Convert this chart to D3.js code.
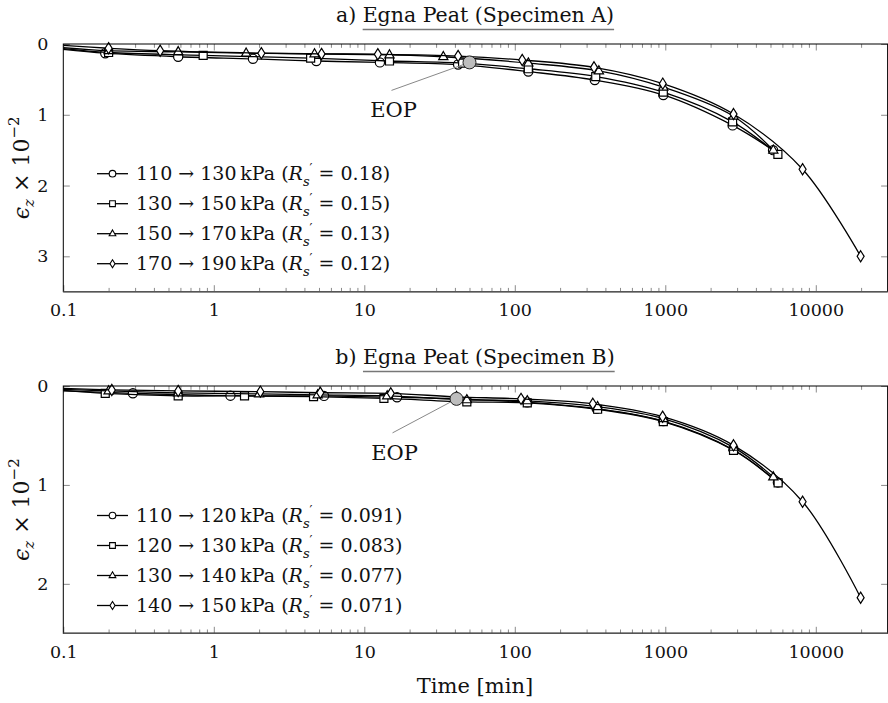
<!DOCTYPE html>
<html><head><meta charset="utf-8">
<script src="https://cdn.jsdelivr.net/npm/d3@7"></script>
<style>body{margin:0;background:#fff}text{font-family:"DejaVu Serif","Liberation Serif","Times New Roman",serif;fill:#111}</style>
</head><body><svg id="c" width="888" height="703"></svg>
<script>
// ---------- DATA ----------
const xTickValues = [0.1, 1, 10, 100, 1000, 10000];
const xTickLabels = ["0.1", "1", "10", "100", "1000", "10000"];
const yTicksA = [0, 1, 2, 3];
const yTicksB = [0, 1, 2];

// Panel a) Specimen A
const tA1 = [0.1, 0.19, 0.58, 1.82, 4.8, 12.7, 42, 123, 340, 970, 2800, 5200];
const eA1 = [0.075, 0.13, 0.18, 0.21, 0.24, 0.26, 0.29, 0.39, 0.51, 0.72, 1.15, 1.50];
const tA2 = [0.1, 0.2, 0.85, 4.4, 14.7, 45, 123, 345, 970, 2800, 5600];
const eA2 = [0.065, 0.12, 0.16, 0.20, 0.24, 0.27, 0.35, 0.46, 0.68, 1.10, 1.56];
const tA3 = [0.1, 0.2, 0.58, 1.64, 4.67, 14.7, 33.5, 123, 362, 970, 2840, 5220];
const eA3 = [0.05, 0.095, 0.11, 0.13, 0.14, 0.155, 0.18, 0.27, 0.38, 0.61, 1.02, 1.50];
const tA4 = [0.1, 0.2, 0.44, 2.07, 5.2, 12.3, 42, 112, 336, 962, 2840, 8170, 19860];
const eA4 = [0.02, 0.06, 0.095, 0.13, 0.14, 0.145, 0.17, 0.226, 0.33, 0.56, 0.99, 1.77, 3.0];
const eopA = [50, 0.26];
const fromA = [110, 130, 150, 170];
const toA = [130, 150, 170, 190];
const rsA = ["0.18", "0.15", "0.13", "0.12"];

// Panel b) Specimen B
const tB1 = [0.1, 0.29, 1.29, 5.4, 16.5, 41, 121, 350, 970, 2840, 5600];
const eB1 = [0.05, 0.074, 0.098, 0.10, 0.114, 0.13, 0.165, 0.23, 0.355, 0.645, 0.975];
const tB2 = [0.1, 0.19, 0.58, 1.6, 4.6, 13.5, 48, 121, 355, 970, 2840, 5620];
const eB2 = [0.045, 0.074, 0.10, 0.10, 0.108, 0.125, 0.16, 0.17, 0.235, 0.36, 0.65, 0.98];
const tB3 = [0.1, 0.2, 0.58, 2.0, 4.9, 14.2, 48, 121, 355, 970, 2840, 5220];
const eB3 = [0.035, 0.05, 0.07, 0.08, 0.09, 0.10, 0.14, 0.15, 0.21, 0.33, 0.62, 0.92];
const tB4 = [0.1, 0.21, 0.58, 2.04, 5.1, 15, 41, 110, 330, 960, 2840, 8170, 19860];
const eB4 = [0.025, 0.04, 0.05, 0.057, 0.068, 0.074, 0.11, 0.13, 0.18, 0.31, 0.60, 1.17, 2.14];
const eopB = [41, 0.13];
const fromB = [110, 120, 130, 140];
const toB = [120, 130, 140, 150];
const rsB = ["0.091", "0.083", "0.077", "0.071"];

// ---------- DRAW ----------
const svg = d3.select("#c");
const markerPaths = {
  circle: s => { const r = 4.6 * s; return `M${r},0A${r},${r} 0 1,1 ${-r},0A${r},${r} 0 1,1 ${r},0Z`; },
  square: s => { const h = 4 * s; return `M${-h},${-h}H${h}V${h}H${-h}Z`; },
  triangle: s => `M0,${-5.2 * s}L${4.6 * s},${2.9 * s}L${-4.6 * s},${2.9 * s}Z`,
  diamond: s => `M0,${-5.6 * s}L${3.5 * s},0L0,${5.6 * s}L${-3.5 * s},0Z`
};
const shapes = ["circle", "square", "triangle", "diamond"];
const FS = 17.5;
const LFS = 19;

function panel(cfg) {
  const {top, bottom, ymax, yTicks, series, eop, from, to, rs, title, eopOff, legendY} = cfg;
  const left = 63.3, right = 887.6;
  const x = d3.scaleLog().domain([0.1, 30000]).range([left, right]);
  const y = d3.scaleLinear().domain([0, ymax]).range([top, bottom]);
  const g = svg.append("g");
  const clipId = "clip" + top;
  svg.append("clipPath").attr("id", clipId).append("rect")
    .attr("x", left).attr("y", top - 8).attr("width", right - left).attr("height", bottom - top + 8);

  const tickCol = "#8a8a8a";
  const minors = [];
  for (let d = 0.1; d < 30000; d *= 10) for (let k = 2; k <= 9; k++) { const v = d * k; if (v < 30000) minors.push(v); }
  const xb = g.append("g").attr("transform", `translate(0,${bottom})`).call(d3.axisBottom(x).tickValues(xTickValues).tickFormat((d, i) => xTickLabels[i]).tickSize(-6.5).tickPadding(12));
  xb.select(".domain").remove();
  xb.selectAll("line").attr("stroke", tickCol);
  xb.selectAll("text").attr("font-size", FS).attr("fill", "#111");
  const xbm = g.append("g").attr("transform", `translate(0,${bottom})`).call(d3.axisBottom(x).tickValues(minors).tickFormat("").tickSize(-3.8));
  xbm.select(".domain").remove(); xbm.selectAll("line").attr("stroke", tickCol);
  const xt = g.append("g").attr("transform", `translate(0,${top})`).call(d3.axisTop(x).tickValues(xTickValues).tickFormat("").tickSize(-6.5));
  xt.select(".domain").remove(); xt.selectAll("line").attr("stroke", tickCol);
  const xtm = g.append("g").attr("transform", `translate(0,${top})`).call(d3.axisTop(x).tickValues(minors).tickFormat("").tickSize(-3.8));
  xtm.select(".domain").remove(); xtm.selectAll("line").attr("stroke", tickCol);
  const yl = g.append("g").attr("transform", `translate(${left},0)`).call(d3.axisLeft(y).tickValues(yTicks).tickFormat(d3.format("d")).tickSize(-6.5).tickPadding(15));
  yl.select(".domain").remove(); yl.selectAll("line").attr("stroke", tickCol);
  yl.selectAll("text").attr("font-size", FS).attr("fill", "#111");
  const yr = g.append("g").attr("transform", `translate(${right},0)`).call(d3.axisRight(y).tickValues(yTicks).tickFormat("").tickSize(-6.5));
  yr.select(".domain").remove(); yr.selectAll("line").attr("stroke", tickCol);

  const line = d3.line().x(d => x(d[0])).y(d => y(d[1])).curve(d3.curveCatmullRom.alpha(0.5));
  const plot = g.append("g").attr("clip-path", `url(#${clipId})`);
  series.forEach((s, i) => {
    const pts = s.t.map((t, j) => [t, s.e[j]]);
    plot.append("path").attr("d", line(pts)).attr("fill", "none").attr("stroke", "#000").attr("stroke-width", 1.3);
    plot.selectAll(null).data(pts.slice(1)).enter().append("path")
      .attr("d", markerPaths[shapes[i]](1))
      .attr("transform", d => `translate(${x(d[0])},${y(d[1])})`)
      .attr("fill", "#fff").attr("stroke", "#000").attr("stroke-width", 1.2);
  });

  const ex = x(eop[0]), ey = y(eop[1]);
  g.append("line").attr("x1", ex + eopOff[0]).attr("y1", ey + eopOff[1]).attr("x2", ex).attr("y2", ey)
    .attr("stroke", "#888").attr("stroke-width", 1);
  g.append("circle").attr("cx", ex).attr("cy", ey).attr("r", 6.5).attr("fill", "#bdbdbd").attr("stroke", "#222").attr("stroke-width", 1);
  g.append("text").attr("x", ex + eopOff[0] + 2).attr("y", ey + eopOff[1] + 27).attr("text-anchor", "middle")
    .attr("font-size", 21).text("EOP");

  g.append("rect").attr("x", left).attr("y", top).attr("width", right - left).attr("height", bottom - top)
    .attr("fill", "none").attr("stroke", "#000").attr("stroke-width", 1);
  g.append("line").attr("x1", left).attr("x2", right).attr("y1", bottom).attr("y2", bottom).attr("stroke", "#555").attr("stroke-width", 1.6);

  from.forEach((f, i) => {
    const ly = legendY + i * 30;
    g.append("line").attr("x1", 97).attr("x2", 128).attr("y1", ly).attr("y2", ly).attr("stroke", "#000").attr("stroke-width", 1.3);
    g.append("path").attr("d", markerPaths[shapes[i]](0.72)).attr("transform", `translate(112.5,${ly})`)
      .attr("fill", "#fff").attr("stroke", "#000").attr("stroke-width", 1.1);
    const t = g.append("text").attr("x", 136).attr("y", ly + 6.5).attr("font-size", LFS);
    t.append("tspan").text(`${f} \u2192 ${to[i]}\u2009kPa (`);
    t.append("tspan").attr("font-style", "italic").text("R");
    t.append("tspan").attr("font-size", 13).attr("dy", 6).attr("font-style", "italic").text("s");
    t.append("tspan").attr("font-size", 13).attr("dy", -13).text("\u2032");
    t.append("tspan").attr("dy", 7).text(` = ${rs[i]})`);
  });

  const tt = svg.append("text").attr("x", 475).attr("y", top - 22).attr("text-anchor", "middle").attr("font-size", 20.5);
  tt.append("tspan").text(title[0] + " ");
  const ul = tt.append("tspan").text(title[1]);
  const tb = tt.node().getBBox();
  const ulLen = ul.node().getComputedTextLength();
  svg.append("line").attr("x1", tb.x + tb.width - ulLen).attr("x2", tb.x + tb.width).attr("y1", top - 14.5).attr("y2", top - 14.5)
    .attr("stroke", "#777").attr("stroke-width", 1.6);

  const yc = (top + bottom) / 2;
  const yt = svg.append("text").attr("transform", `translate(29,${yc}) rotate(-90)`).attr("text-anchor", "middle").attr("font-size", 22);
  yt.append("tspan").attr("font-style", "italic").text("\u03F5");
  yt.append("tspan").attr("font-style", "italic").attr("font-size", 15).attr("dy", 5).text("z");
  yt.append("tspan").attr("dy", -5).text(" \u00D7 10");
  yt.append("tspan").attr("font-size", 15).attr("dy", -10).text("\u22122");
}

panel({top: 44, bottom: 291.7, ymax: 3.5, yTicks: yTicksA,
  series: [{t: tA1, e: eA1}, {t: tA2, e: eA2}, {t: tA3, e: eA3}, {t: tA4, e: eA4}],
  eop: eopA, from: fromA, to: toA, rs: rsA, title: ["a)", "Egna Peat (Specimen A)"],
  eopOff: [-78, 28], legendY: 173.7});
panel({top: 386, bottom: 633.3, ymax: 2.5, yTicks: yTicksB,
  series: [{t: tB1, e: eB1}, {t: tB2, e: eB2}, {t: tB3, e: eB3}, {t: tB4, e: eB4}],
  eop: eopB, from: fromB, to: toB, rs: rsB, title: ["b)", "Egna Peat (Specimen B)"],
  eopOff: [-64, 34], legendY: 515.5});

svg.append("text").attr("x", 475).attr("y", 693).attr("text-anchor", "middle").attr("font-size", 21).text("Time [min]");
</script></body></html>
